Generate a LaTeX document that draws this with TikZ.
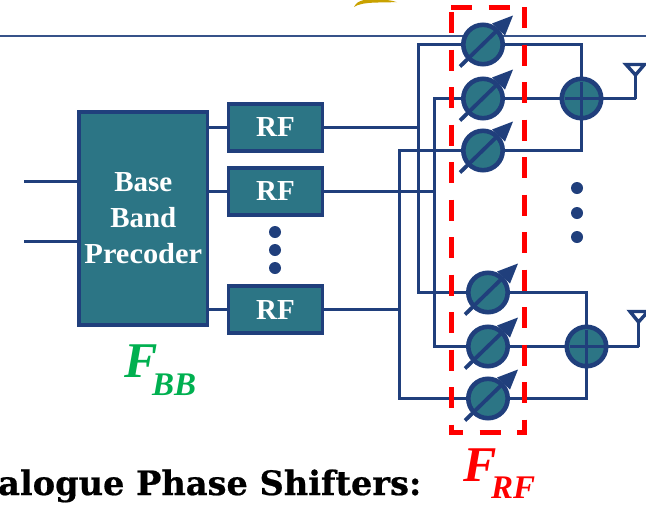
\documentclass[tikz,border=0pt]{standalone}
\usepackage{fontspec}
\usepackage{graphicx}
\setmainfont{Liberation Serif}
\newfontfamily\capfont[BoldFeatures={FakeBold=0.6}]{DejaVu Serif}
\definecolor{edgeblue}{HTML}{203F7C}
\definecolor{teal}{HTML}{2C7585}
\definecolor{fbbgreen}{HTML}{00B050}
\definecolor{gold}{HTML}{C9A200}
\tikzset{
  blockbox/.style={draw=edgeblue,fill=teal,line width=3.8pt,inner sep=0pt,outer sep=0pt,text=white,font=\fontsize{29}{36}\selectfont\bfseries,align=center},
  rfbox/.style={blockbox,minimum width=94pt,minimum height=47pt},
  psnode/.style={circle,draw=edgeblue,fill=teal,line width=4.6pt,minimum size=39.4pt,inner sep=0pt,outer sep=0pt},
  wire/.style={draw=edgeblue,line width=2.7pt,line join=miter},
  dotmark/.style={circle,fill=edgeblue,minimum size=12pt,inner sep=0pt},
  antenna/.style={draw=edgeblue,fill=white,line width=3.4pt,line join=miter},
  mathlabel/.style={anchor=base west,inner sep=0pt,font=\fontsize{50}{50}\selectfont\itshape},
  sublabel/.style={anchor=base west,inner sep=0pt,font=\fontsize{33}{33}\selectfont\bfseries\itshape},
  reddash/.style={draw=red,line width=5pt,dash pattern=on 21pt off 16.5pt},
}
\begin{document}
\begin{tikzpicture}[x=1pt,y=-1pt]
\useasboundingbox (0,0) rectangle (646,504);
\clip (0,0) rectangle (646,504);
% top rule and swoosh
\fill[gold] (354,7) .. controls (358,4) and (366,3) .. (374,2.6) .. controls (382,2.4) and (390,2.2) .. (397,2.2) .. controls (392,0.5) and (388,0) .. (385,0) -- (364,0) .. controls (359,1) and (356,3) .. cycle;
\coordinate (ruleL) at (0,36); \coordinate (ruleR) at (646,36);
\draw[draw=edgeblue!90!white,line width=1.8pt] (ruleL) -- (ruleR);
% blocks
\node[blockbox,minimum width=128.5pt,minimum height=213pt] (bb) at (143.3,218.5) {Base\\Band\\\scalebox{1.05}[1]{Precoder}};
\node[rfbox] (rf1) at (275.5,127.5) {RF};
\node[rfbox] (rf2) at (275.5,191.5) {RF};
\node[rfbox] (rf3) at (275.5,309.5) {RF};
% shifters and summers
\foreach \n/\x/\y in {ps1/483/44.5,ps2/483/98.5,ps3/483/150.5,ps4/488/292.5,ps5/488/346.5,ps6/488/398.5}{
  \node[psnode] (\n) at (\x,\y) {};
}
\node[psnode] (sum1) at (581.5,98.5) {};
\node[psnode] (sum2) at (586.5,346.5) {};
\coordinate (in1) at (24,181.5);
\coordinate (in2) at (24,241.5);
\coordinate (ant1) at (635.5,98.5);
\coordinate (ant2) at (638.5,346.5);
\coordinate (bus1) at (418.5,0);
\coordinate (bus2) at (434.5,0);
\coordinate (bus3) at (399.5,0);
% wires
\draw[wire] (in1) -- (bb.west |- in1);
\draw[wire] (in2) -- (bb.west |- in2);
\foreach \r in {rf1,rf2,rf3}{\draw[wire] (bb.east |- \r) -- (\r.west);}
\draw[wire] (rf1.east) -- (bus1 |- rf1);
\draw[wire] (rf2.east) -- (bus2 |- rf2);
\draw[wire] (rf3.east) -- (bus3 |- rf3);
\draw[wire] (ps1.west) -- (bus1 |- ps1) -- (bus1 |- ps4) -- (ps4.west);
\draw[wire] (ps2.west) -- (bus2 |- ps2) -- (bus2 |- ps5) -- (ps5.west);
\draw[wire] (ps3.west) -- (bus3 |- ps3) -- (bus3 |- ps6) -- (ps6.west);
\draw[wire] (ps1.east) -| (sum1.north);
\draw[wire] (ps2.east) -- (sum1.west);
\draw[wire] (ps3.east) -| (sum1.south);
\draw[wire] (ps4.east) -| (sum2.north);
\draw[wire] (ps5.east) -- (sum2.west);
\draw[wire] (ps6.east) -| (sum2.south);
\draw[wire] (sum1.east) -- (ant1);
\draw[wire] (sum2.east) -- (ant2);
% shifter pointers
\foreach \n in {ps1,ps2,ps3,ps4,ps5,ps6}{
  \begin{scope}[shift={(\n)}]
    \draw[draw=edgeblue,line width=3.8pt] (-23,22) -- (14,-14);
    \fill[edgeblue] (30,-29) -- (9,-21) -- (22,-9) -- cycle;
  \end{scope}
}
% summer crosses
\foreach \n in {sum1,sum2}{
  \begin{scope}[shift={(\n)}]
    \draw[draw=edgeblue,line width=3.8pt] (-17,0) -- (17,0) (0,-17) -- (0,17);
  \end{scope}
}
% antennas
\draw[draw=edgeblue,line width=3.6pt] (ant1) -- (635.5,72);
\draw[antenna] (626,64.5) -- (644.5,64.5) -- (635.5,75) -- cycle;
\draw[draw=edgeblue,line width=3.6pt] (ant2) -- (638.5,320);
\draw[antenna] (630,311.5) -- (648,311.5) -- (638.5,322) -- cycle;
% dots
\foreach \i/\x/\y in {a/275/232,b/275/250,c/275/268,d/577/188,e/577/213,f/577/237}{
  \node[dotmark] (dot\i) at (\x,\y) {};
}
% red dashed box
\draw[reddash] (451,7) -- (524,7);
\draw[reddash] (524,7) -- (524,434.5);
\draw[reddash] (451,12) -- (451,434.5);
\draw[reddash,dash phase=9pt] (451,432) -- (526.5,432);
% labels
\node[mathlabel,text=fbbgreen] (fbb) at (124,377) {\textbf{F}};
\node[sublabel,text=fbbgreen] (fbbs) at (152,395) {BB};
\node[mathlabel,text=red] (frf) at (463,481) {\textbf{F}};
\node[sublabel,text=red] (frfs) at (491,498) {RF};
\node[anchor=base west,inner sep=0pt] (cap) at (-2,495) {\capfont\fontsize{33.6}{34}\selectfont\bfseries alogue Phase Shifters:};
\end{tikzpicture}
\end{document}
